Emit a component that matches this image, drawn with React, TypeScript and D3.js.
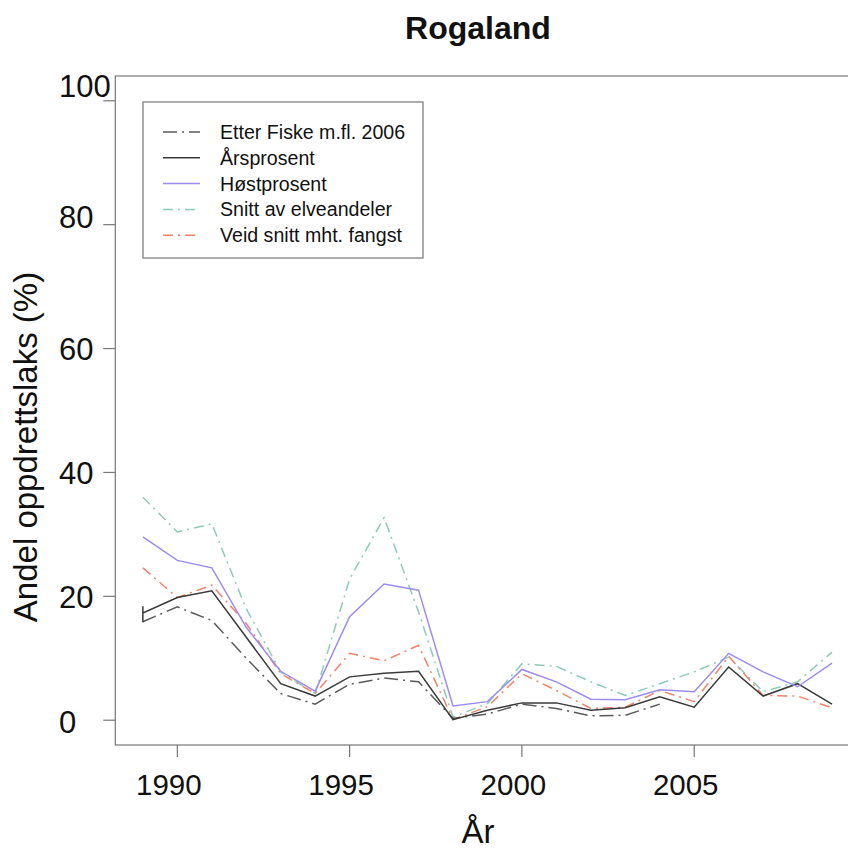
import React from "react";
import * as d3 from "d3";

const years = [1989, 1990, 1991, 1992, 1993, 1994, 1995, 1996, 1997, 1998, 1999, 2000, 2001, 2002, 2003, 2004, 2005, 2006, 2007, 2008, 2009];

const etterFiskeYears = [1989, 1990, 1991, 1992, 1993, 1994, 1995, 1996, 1997, 1998, 1999, 2000, 2001, 2002, 2003, 2004];
const etterFiske = [15.9, 18.3, 16.1, 10.0, 4.3, 2.6, 5.8, 6.8, 6.2, 0.3, 1.0, 2.6, 1.9, 0.7, 0.8, 2.6];

const arsprosentYears = [1989, 1989, 1989, ...years.slice(1)];
const arsprosent = [18.4, 15.8, 17.3, 19.8, 20.9, 13.4, 5.9, 3.9, 7.0, 7.6, 7.9, 0.1, 1.6, 2.8, 2.8, 1.6, 2.0, 3.8, 2.1, 8.6, 3.9, 5.9, 2.6];

const hostprosent = [29.6, 25.8, 24.6, 15.0, 7.9, 4.7, 16.7, 22.0, 21.0, 2.3, 3.0, 8.2, 6.2, 3.4, 3.3, 4.9, 4.6, 10.8, 7.8, 5.4, 9.2];

const snittElv = [36.0, 30.4, 31.7, 18.0, 7.8, 4.3, 22.8, 32.7, 17.5, 0.5, 2.7, 9.1, 8.7, 6.2, 4.0, 5.9, 7.8, 10.2, 4.6, 6.2, 11.0];

const veidSnitt = [24.6, 19.8, 21.8, 15.6, 7.5, 4.3, 10.8, 9.6, 12.1, 0.1, 2.2, 7.5, 4.8, 1.9, 2.1, 4.8, 3.0, 10.3, 4.0, 3.9, 2.0];

const xTicks = [1990, 1995, 2000, 2005];
const yTicks = [0, 20, 40, 60, 80, 100];

const seriesNames = ["Etter Fiske m.fl. 2006", "Årsprosent", "Høstprosent", "Snitt av elveandeler", "Veid snitt mht. fangst"];
const seriesColors = ["#5a5a5a", "#3a3a3a", "#9b8cf2", "#8ccbb8", "#f2836a"];
const seriesDash = ["14,5,2,5", "", "", "10,5,2,5", "10,5,2,5"];

const W = 848;
const H = 849;
const FONT = "'Liberation Sans', Arial, sans-serif";

export default function App() {
  const x = d3.scaleLinear().domain([1988.2, 2009.8]).range([115.3, 859.6]);
  const y = d3.scaleLinear().domain([-4, 104]).range([745, 76]);
  const yLabel = d3.scaleLinear().domain([0, 60, 100]).range([722, 349, 86]);

  const line = d3
    .line<[number, number]>()
    .x((d) => x(d[0]))
    .y((d) => y(d[1]));

  const seriesData: [number, number][][] = [
    etterFiskeYears.map((yr, i) => [yr, etterFiske[i]]),
    arsprosentYears.map((yr, i) => [yr, arsprosent[i]]),
    years.map((yr, i) => [yr, hostprosent[i]]),
    years.map((yr, i) => [yr, snittElv[i]]),
    years.map((yr, i) => [yr, veidSnitt[i]]),
  ];

  const drawOrder = [3, 4, 0, 1, 2];

  const left = x.range()[0];
  const right = x.range()[1];
  const top = y.range()[1];
  const bottom = y.range()[0];

  const legX = 143;
  const legY = 102;
  const legW = 280;
  const legH = 156;
  const rowY = (i: number) => legY + 30 + i * 25.8;

  return (
    <svg width={W} height={H} style={{ position: "absolute", left: 0, top: 0, background: "#fff" }} fontFamily={FONT}>
      <rect x={0} y={0} width={W} height={H} fill="#fff" />
      <text x={478} y={39} textAnchor="middle" fontSize={32} fontWeight="bold" fill="#111">
        Rogaland
      </text>

      {/* plot box */}
      <rect x={left} y={top} width={right - left} height={bottom - top} fill="none" stroke="#777" strokeWidth={1.2} />

      {/* y ticks */}
      {yTicks.map((t) => (
        <g key={"y" + t}>
          <line x1={left - 12} x2={left} y1={y(t)} y2={y(t)} stroke="#777" strokeWidth={1.2} />
          <text x={59} y={yLabel(t)} dominantBaseline="central" fontSize={31} fill="#111">
            {t}
          </text>
        </g>
      ))}

      {/* x ticks */}
      {xTicks.map((t) => (
        <g key={"x" + t}>
          <line x1={x(t)} x2={x(t)} y1={bottom} y2={bottom + 12} stroke="#777" strokeWidth={1.2} />
          <text x={x(t) - 8.5} y={795} textAnchor="middle" fontSize={29.5} fill="#111">
            {t}
          </text>
        </g>
      ))}

      <text x={478} y={843} textAnchor="middle" fontSize={33} fill="#111">
        År
      </text>
      <text
        transform={`translate(37, 447) rotate(-90)`}
        textAnchor="middle"
        fontSize={33}
        fill="#111"
      >
        Andel oppdrettslaks (%)
      </text>

      {/* series */}
      {drawOrder.map((i) => (
        <path
          key={"s" + i}
          d={line(seriesData[i]) || ""}
          fill="none"
          stroke={seriesColors[i]}
          strokeWidth={1.5}
          strokeDasharray={seriesDash[i] || undefined}
          strokeLinejoin="miter"
        />
      ))}

      {/* legend */}
      <rect x={legX} y={legY} width={legW} height={legH} fill="#fff" stroke="#777" strokeWidth={1.2} />
      {seriesNames.map((name, i) => (
        <g key={"l" + i}>
          <line
            x1={163}
            x2={200}
            y1={rowY(i)}
            y2={rowY(i)}
            stroke={seriesColors[i]}
            strokeWidth={1.5}
            strokeDasharray={seriesDash[i] || undefined}
          />
          <text x={220} y={rowY(i)} dominantBaseline="central" fontSize={19.6} fill="#111">
            {name}
          </text>
        </g>
      ))}
    </svg>
  );
}
